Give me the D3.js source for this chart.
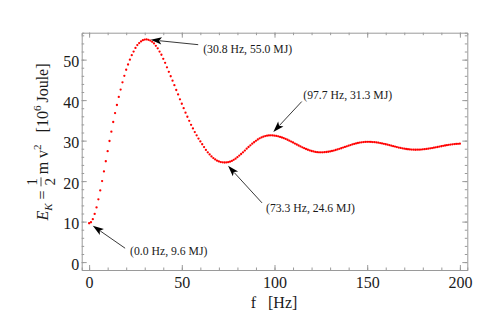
<!DOCTYPE html>
<html>
<head>
<meta charset="utf-8">
<script src="https://cdn.jsdelivr.net/npm/d3@7"></script>
<style>
  body { margin: 0; background: #fff; }
  svg { display: block; font-family: "Liberation Serif", "DejaVu Serif", serif; }
</style>
</head>
<body>
<svg id="chart" width="498" height="336"></svg>
<script>
// kinetic energy vs frequency, one sample per Hz
const freqHz = d3.range(0, 201);
const energyMJ = [
  9.6, 9.84, 10.6, 11.9, 13.5, 15.5, 17.7, 20.0, 22.4, 24.9,
  27.4, 29.9, 32.2, 34.6, 36.8, 38.8, 40.8, 42.6, 44.4, 46.0,
  47.5, 48.8, 50.0, 51.1, 52.0, 52.9, 53.6, 54.1, 54.5, 54.8,
  54.95, 55.0,
  54.9, 54.7, 54.4, 54.0, 53.4, 52.8, 52.0, 51.2, 50.2, 49.2,
  48.1, 47.0, 45.9, 44.8, 43.7, 42.5, 41.4, 40.2, 39.1, 38.0,
  36.9, 35.9, 34.9, 33.9, 33.0, 32.1, 31.3, 30.5, 29.8, 29.1,
  28.4, 27.7, 27.1, 26.6, 26.1, 25.7, 25.35, 25.05, 24.85, 24.7,
  24.63, 24.6,
  24.62, 24.68, 24.8, 24.98, 25.25, 25.55, 25.9, 26.3, 26.7, 27.1,
  27.55, 28.0, 28.42, 28.84, 29.24, 29.6, 29.95, 30.28, 30.56, 30.8,
  30.98, 31.12, 31.22, 31.28, 31.3,
  31.28, 31.23, 31.15, 31.05, 30.92, 30.77, 30.6, 30.41, 30.21, 29.99,
  29.76, 29.53, 29.28, 29.04, 28.8, 28.57, 28.34, 28.13, 27.93, 27.75,
  27.58, 27.44, 27.32, 27.22, 27.15, 27.11, 27.1,
  27.11, 27.14, 27.19, 27.25, 27.34, 27.44, 27.55, 27.68, 27.82, 27.97,
  28.12, 28.28, 28.44, 28.6, 28.76, 28.91, 29.05, 29.18, 29.3, 29.41,
  29.51, 29.58, 29.64, 29.68, 29.7,
  29.7, 29.68, 29.65, 29.61, 29.55, 29.48, 29.4, 29.31, 29.21, 29.1,
  28.99, 28.87, 28.76, 28.64, 28.52, 28.4, 28.29, 28.19, 28.09, 28.0,
  27.93, 27.87, 27.82, 27.78, 27.76, 27.75,
  27.76, 27.77, 27.8, 27.84, 27.89, 27.95, 28.01, 28.09, 28.17, 28.25,
  28.34, 28.43, 28.52, 28.61, 28.71, 28.79, 28.88, 28.95, 29.02, 29.08,
  29.14, 29.18, 29.21, 29.24
];

// annotated extrema
const markFreq = [0.0, 30.8, 73.3, 97.7];
const markEnergy = [9.6, 55.0, 24.6, 31.3];

const xTicks = [0, 50, 100, 150, 200];
const yTicks = [0, 10, 20, 30, 40, 50];

const svg = d3.select("#chart");
const frame = { left: 81.7, right: 467.3, top: 32.7, bottom: 270 };

const x = d3.scaleLinear().domain([-4, 204]).range([frame.left, frame.right]);
const y = d3.scaleLinear().domain([-1.95, 56.65]).range([frame.bottom, frame.top]);

const frameColor = "#9a9a9a";

// frame with ticks on all four sides
function frameAxis(axis, tr, major, minor, labels) {
    const g = svg.append("g").attr("transform", tr);
    g.call(axis.tickValues(minor).tickSize(2.5).tickFormat(""));
    g.selectAll(".tick line").attr("stroke", frameColor);
    g.select(".domain").attr("stroke", frameColor);
    const g2 = svg.append("g").attr("transform", tr);
    g2.call(axis.tickValues(major).tickSize(5).tickPadding(3)
        .tickFormat(labels ? d3.format("d") : ""));
    g2.select(".domain").remove();
    g2.selectAll(".tick line").attr("stroke", frameColor);
    g2.selectAll(".tick text")
        .attr("fill", "#1a1a1a")
        .style("font-size", "16px")
        .style("font-family", "Liberation Serif, serif");
    return g2;
}

const xMinor = d3.range(-0, 201, 10);
const yMinor = d3.range(0, 57, 2);

// bottom
const gb = frameAxis(d3.axisTop(x), `translate(0,${frame.bottom})`, xTicks, xMinor, true);
gb.selectAll(".tick text").attr("y", 18).attr("dy", null);
// top
frameAxis(d3.axisBottom(x), `translate(0,${frame.top})`, xTicks, xMinor, false);
// left
const gl = frameAxis(d3.axisRight(y), `translate(${frame.left},0)`, yTicks, yMinor, true);
gl.selectAll(".tick text").attr("x", -2.5).attr("text-anchor", "end").attr("dy", "0.45em");
// right
frameAxis(d3.axisLeft(y), `translate(${frame.right},0)`, yTicks, yMinor, false);

// data points
svg.append("g")
  .selectAll("circle")
  .data(energyMJ)
  .join("circle")
    .attr("cx", (d, i) => x(freqHz[i]))
    .attr("cy", d => y(d))
    .attr("r", 1.15)
    .attr("fill", "#ff0000");

// annotations: tail offset + text offset in px relative to the marked point
const annoLayout = [
  { tail: [36, 25], text: [41, 31.5] },
  { tail: [52, 5.3], text: [57, 14] },
  { tail: [37, 40.4], text: [41, 49.7] },
  { tail: [31.5, -33.8], text: [33, -36.5] }
];

const gA = svg.append("g");
markFreq.forEach((f, i) => {
    const px = x(f), py = y(markEnergy[i]);
    const lay = annoLayout[i];
    const tx = px + lay.tail[0], ty = py + lay.tail[1];
    const len = Math.hypot(tx - px, ty - py);
    const ux = (px - tx) / len, uy = (py - ty) / len;
    const tipX = px - ux * 4.5, tipY = py - uy * 4.5;
    const L = 11, w = 3.6;
    const bx = tipX - ux * L, by = tipY - uy * L;
    gA.append("line")
      .attr("x1", tx).attr("y1", ty)
      .attr("x2", bx + ux * 2).attr("y2", by + uy * 2)
      .attr("stroke", "#222").attr("stroke-width", 0.9);
    gA.append("path")
      .attr("d", `M${tipX},${tipY}L${bx - uy * w},${by + ux * w}L${bx + ux * 2.5},${by + uy * 2.5}L${bx + uy * w},${by - ux * w}Z`)
      .attr("fill", "#000");
    gA.append("text")
      .attr("x", px + lay.text[0]).attr("y", py + lay.text[1])
      .style("font-size", "11.7px")
      .attr("fill", "#1a1a1a")
      .text(`(${f.toFixed(1)} Hz, ${markEnergy[i].toFixed(1)} MJ)`);
});

// x label
svg.append("text")
  .attr("x", 274).attr("y", 308)
  .attr("text-anchor", "middle")
  .style("font-size", "16px")
  .style("white-space", "pre")
  .attr("fill", "#1a1a1a")
  .text("f   [Hz]");

// y label, built piece by piece along the rotated baseline
const gy = svg.append("g");
const yl = gy.append("g");
let cur = 0;
function piece(str, opt) {
    opt = opt || {};
    const t = yl.append("text")
      .attr("x", cur).attr("y", opt.dy || 0)
      .style("font-size", (opt.size || 16) + "px")
      .style("font-style", opt.italic ? "italic" : "normal")
      .style("white-space", "pre")
      .attr("fill", "#1a1a1a")
      .text(str);
    cur += t.node().getComputedTextLength() + (opt.gap || 0);
    return t;
}
piece("E", { italic: true, gap: 0 });
piece("K", { italic: true, size: 11, dy: 4 });
piece(" = ");
// fraction
const fw = 9;
yl.append("line").attr("x1", cur).attr("x2", cur + fw)
  .attr("y1", -7).attr("y2", -7).attr("stroke", "#1a1a1a").attr("stroke-width", 0.8);
yl.append("text").attr("x", cur + fw / 2).attr("y", -11).attr("text-anchor", "middle")
  .style("font-size", "15px").attr("fill", "#1a1a1a").text("1");
yl.append("text").attr("x", cur + fw / 2).attr("y", 7).attr("text-anchor", "middle")
  .style("font-size", "15px").attr("fill", "#1a1a1a").text("2");
cur += fw + 3;
piece("m v");
piece("2", { size: 11, dy: -7 });
piece("   [10");
piece("6", { size: 11, dy: -7, gap: 3 });
piece("Joule]");
const total = cur;
yl.attr("transform", `translate(${-total / 2},0)`);
gy.attr("transform", `translate(48,142) rotate(-90)`);
</script>
</body>
</html>
